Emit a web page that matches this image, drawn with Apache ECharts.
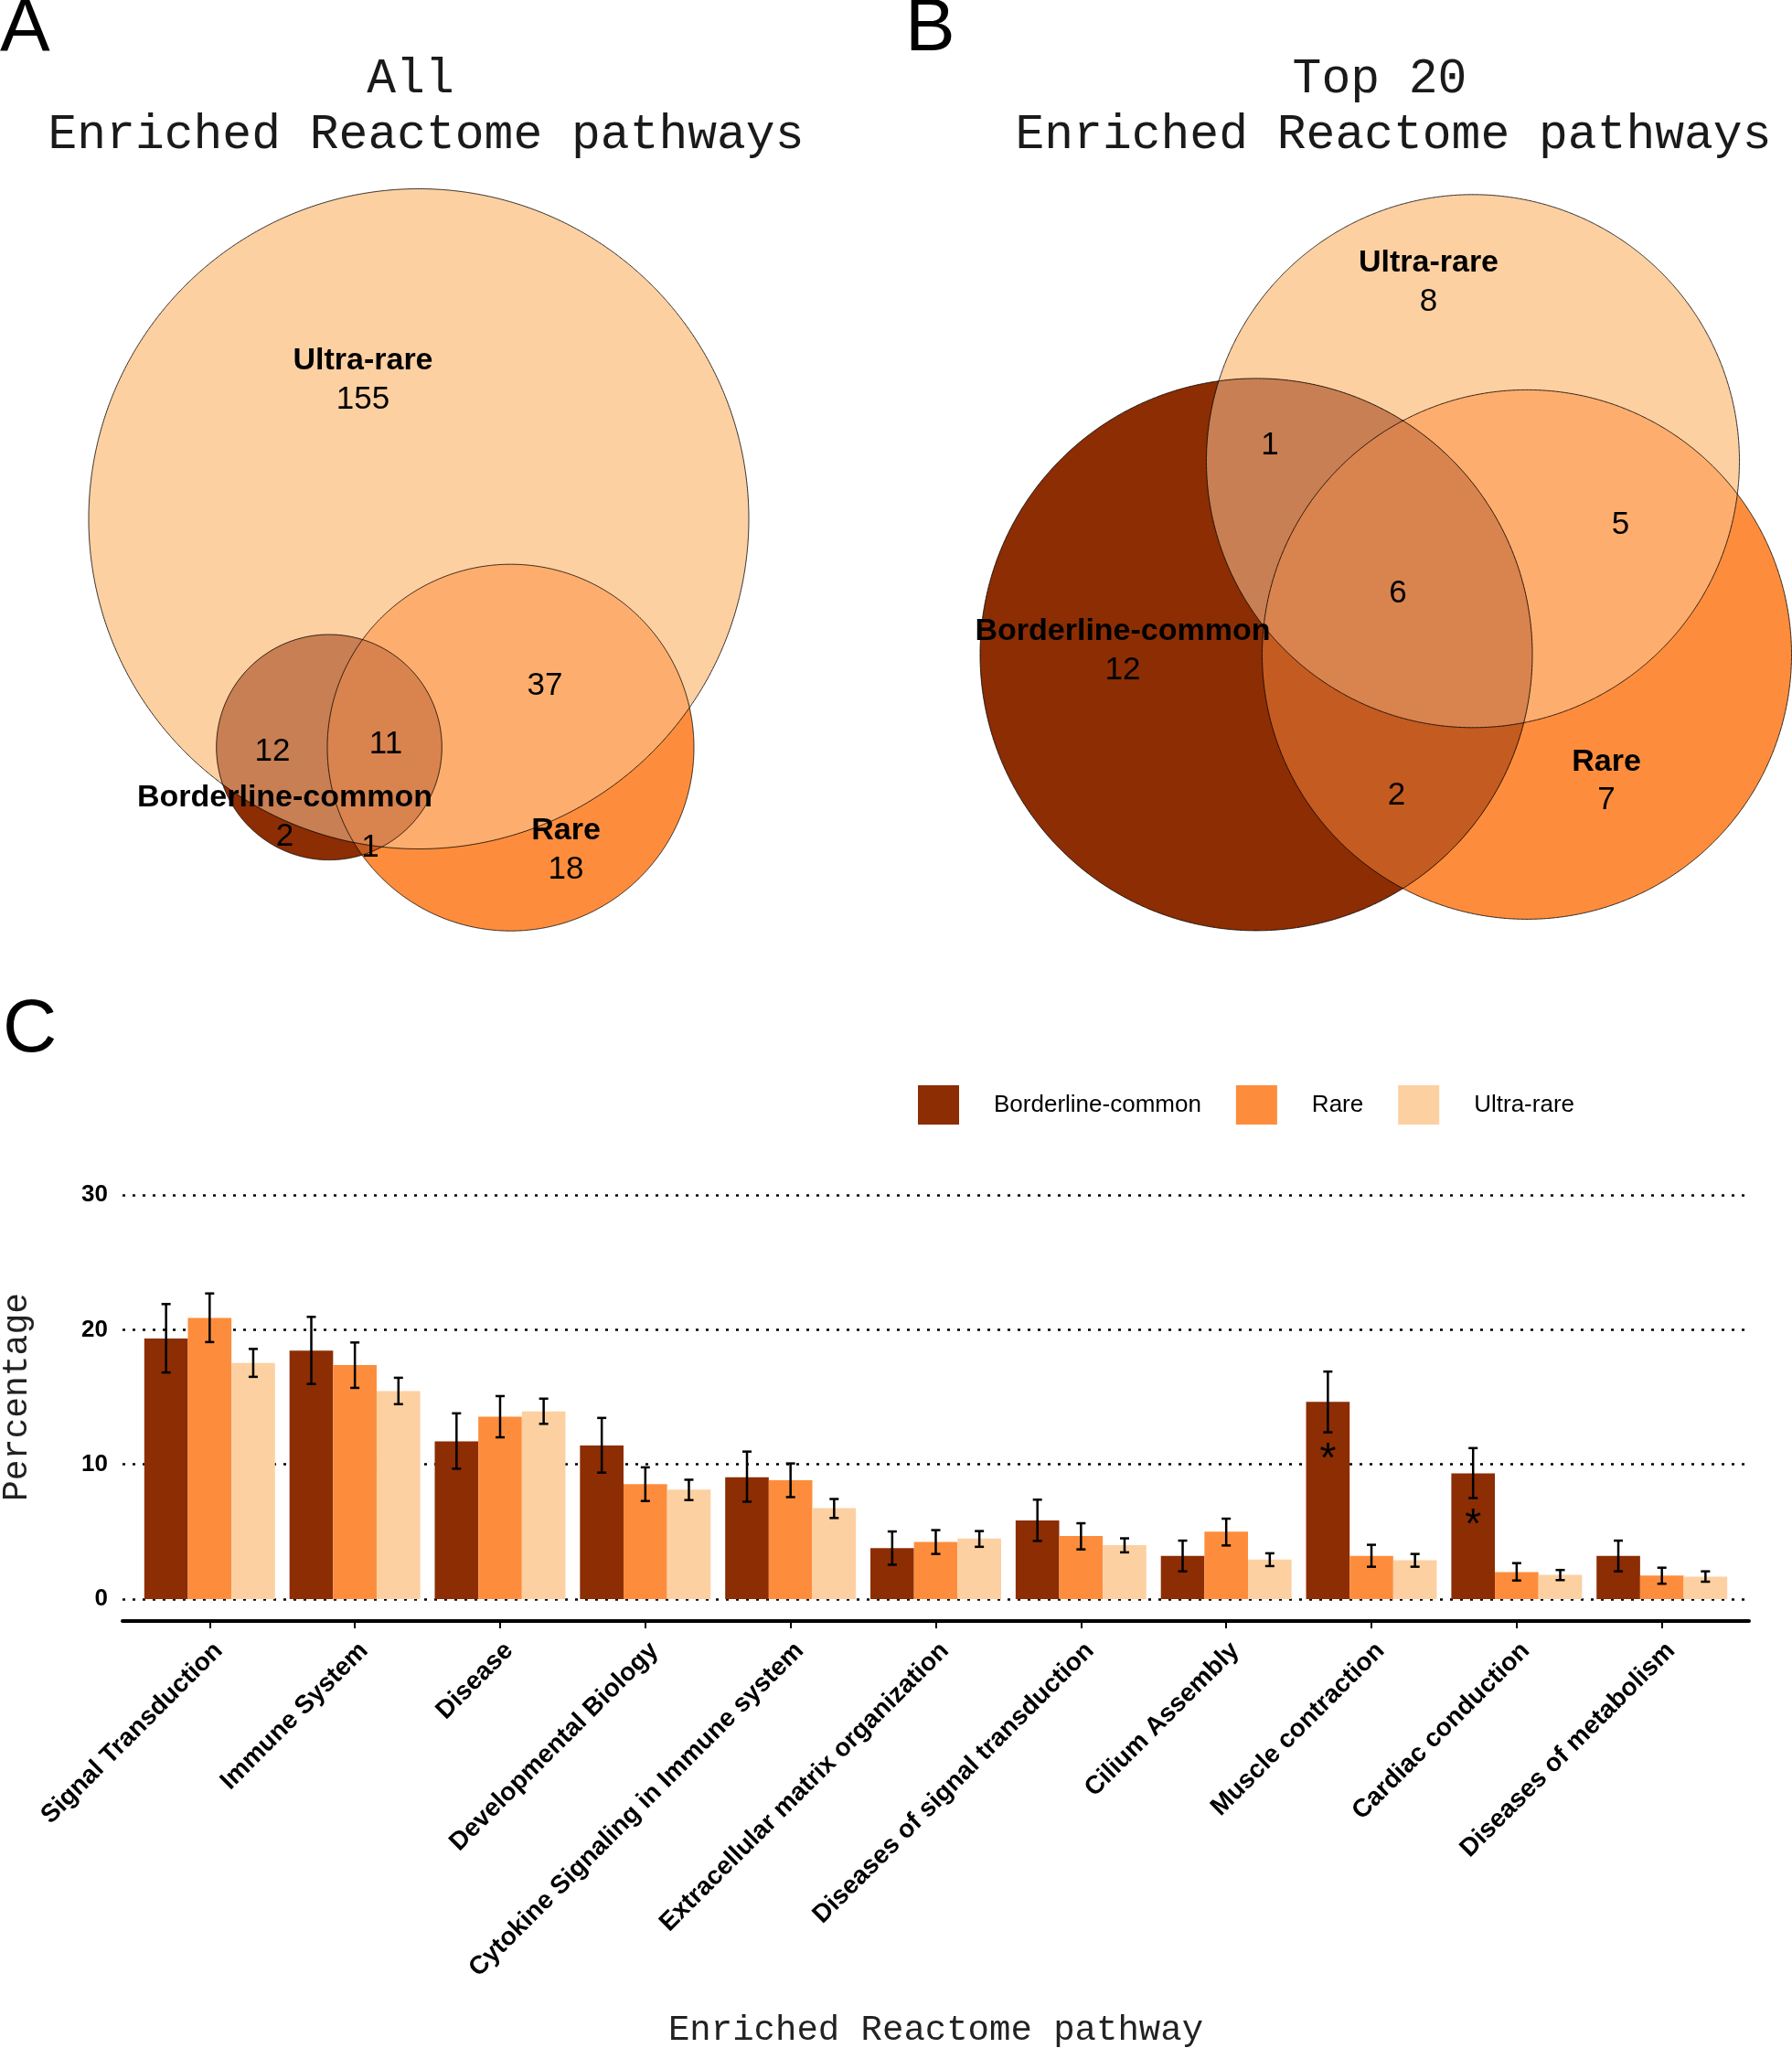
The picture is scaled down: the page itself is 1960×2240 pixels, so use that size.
<!DOCTYPE html>
<html>
<head>
<meta charset="utf-8">
<title>Enriched Reactome pathways</title>
<script src="https://cdn.jsdelivr.net/npm/echarts@6/dist/echarts.min.js"></script>
<style>
  html, body { margin: 0; padding: 0; background: #fff; }
  #main { width: 1960px; height: 2240px; }
</style>
</head>
<body>
<div id="main"></div>
<script>
// ---- panel C data (percent of pathways, with error bar ends) ----
const categories = ['Signal Transduction', 'Immune System', 'Disease', 'Developmental Biology',
  'Cytokine Signaling in Immune system', 'Extracellular matrix organization',
  'Diseases of signal transduction', 'Cilium Assembly', 'Muscle contraction',
  'Cardiac conduction', 'Diseases of metabolism'];
const groupNames = ['Borderline-common', 'Rare', 'Ultra-rare'];

const borderline     = [19.34, 18.45, 11.70, 11.41, 9.05, 3.79, 5.83, 3.20, 14.64, 9.34, 3.20];
const borderlineLow  = [16.82, 15.97, 9.68, 9.39, 7.23, 2.55, 4.32, 2.06, 12.38, 7.50, 2.06];
const borderlineHigh = [21.90, 20.95, 13.79, 13.45, 10.95, 5.02, 7.38, 4.34, 16.89, 11.21, 4.34];
const rare           = [20.87, 17.38, 13.54, 8.54, 8.83, 4.25, 4.68, 5.00, 3.20, 2.01, 1.75];
const rareLow        = [19.08, 15.68, 12.01, 7.28, 7.57, 3.35, 3.69, 3.98, 2.40, 1.38, 1.14];
const rareHigh       = [22.69, 19.05, 15.07, 9.78, 10.07, 5.12, 5.63, 5.97, 4.03, 2.67, 2.33];
const ultra          = [17.52, 15.44, 13.93, 8.13, 6.75, 4.49, 4.00, 2.94, 2.89, 1.80, 1.67];
const ultraLow       = [16.50, 14.47, 13.01, 7.35, 6.02, 3.88, 3.47, 2.45, 2.40, 1.41, 1.29];
const ultraHigh      = [18.57, 16.43, 14.88, 8.86, 7.43, 5.05, 4.51, 3.40, 3.35, 2.16, 2.06];
// significance marks for borderline-common
const signif = ['', '', '', '', '', '', '', '', '*', '*', ''];
const yTicks = [0, 10, 20, 30];

// ---- panels A / B data (Venn region counts) ----
const vennSets = ['Ultra-rare', 'Rare', 'Borderline-common'];
// regions: U, R, B, U&R, U&B, R&B, U&R&B
const regionSets = [[0], [1], [2], [0, 1], [0, 2], [1, 2], [0, 1, 2]];
const countsAll   = [155, 18, 2, 37, 12, 1, 11];
const countsTop20 = [8, 7, 12, 5, 1, 2, 6];

// ---- layout / style (not data) ----
const groupColors = ['#8c2d04', '#fd8d3c', '#fdd0a2'];
const regionColors = ['#fdd0a2', '#fd8d3c', '#8c2d04', '#fdae6e', '#c77f53', '#c45b20', '#d9834f'];
// circle geometry in venn units [cx, cy, r]
const circlesAll   = [[458, 432.5, 361], [558.5, 182.3, 200.5], [360, 182.7, 123.3]];
const circlesTop20 = [[631, 495.7, 291.5], [690, 284.1, 289.5], [394, 284.1, 302]];
const labelPosAll   = [[397, 584], [619, 70], [311.5, 106], [596, 250], [298, 177.7], [405, 72.5], [422, 185.7]];
const labelPosTop20 = [[582.5, 691], [777, 145.2], [248, 288], [792.5, 426.1], [409, 512.5], [547.5, 129.4], [549, 350.4]];

const SANS = '"Liberation Sans", Arial, sans-serif';
const MONO = '"Liberation Mono", "Courier New", monospace';

const seriesValues = [borderline, rare, ultra];
const seriesLow = [borderlineLow, rareLow, ultraLow];
const seriesHigh = [borderlineHigh, rareHigh, ultraHigh];

let myChart = echarts.init(document.getElementById('main'));

// venn drawing: every region is painted as the intersection polygon of its circles
function vennRender(circles, labelPos, counts) {
  return function (params, api) {
    if (params.dataIndex !== 0) return;
    const N = 1440;
    const ring = (c) => {
      const pts = [];
      for (let k = 0; k < N; k++) {
        const a = 2 * Math.PI * k / N;
        pts.push([c[0] + c[2] * Math.cos(a), c[1] + c[2] * Math.sin(a)]);
      }
      return pts;
    };
    const inside = (p, c) => {
      const dx = p[0] - c[0], dy = p[1] - c[1];
      return dx * dx + dy * dy <= c[2] * c[2] + 1e-6;
    };
    const regionPoly = (sets) => {
      let pts = [];
      sets.forEach((i) => {
        ring(circles[i]).forEach((p) => {
          if (sets.every((j) => j === i || inside(p, circles[j]))) pts.push(p);
        });
      });
      if (pts.length < 3) return null;
      let mx = 0, my = 0;
      pts.forEach((p) => { mx += p[0]; my += p[1]; });
      mx /= pts.length; my /= pts.length;
      pts.sort((a, b) => Math.atan2(a[1] - my, a[0] - mx) - Math.atan2(b[1] - my, b[0] - mx));
      return pts.map((p) => api.coord(p));
    };
    const children = [];
    regionSets.forEach((sets, r) => {
      const pts = regionPoly(sets);
      if (pts) children.push({ type: 'polygon', shape: { points: pts }, style: { fill: regionColors[r] } });
    });
    circles.forEach((c) => {
      children.push({
        type: 'polygon', shape: { points: ring(c).map((p) => api.coord(p)) },
        style: { fill: 'none', stroke: 'rgba(0,0,0,0.8)', lineWidth: 1 }
      });
    });
    regionSets.forEach((sets, r) => {
      const p = api.coord(labelPos[r]);
      if (sets.length === 1) {
        children.push({ type: 'text', x: p[0], y: p[1] - 21,
          style: { text: vennSets[sets[0]], fill: '#000', fontSize: 34, fontWeight: 'bold', fontFamily: SANS, align: 'center', verticalAlign: 'middle' } });
        children.push({ type: 'text', x: p[0], y: p[1] + 21,
          style: { text: String(counts[r]), fill: '#000', fontSize: 35, fontFamily: SANS, align: 'center', verticalAlign: 'middle' } });
      } else {
        children.push({ type: 'text', x: p[0], y: p[1],
          style: { text: String(counts[r]), fill: '#000', fontSize: 35, fontFamily: SANS, align: 'center', verticalAlign: 'middle' } });
      }
    });
    return { type: 'group', children: children };
  };
}

// error bars (+ significance stars)
const errData = [];
groupNames.forEach((n, g) => {
  categories.forEach((c, i) => errData.push([i, seriesLow[g][i], seriesHigh[g][i], g]));
});

const catIdx = categories.map((c, i) => i);

let options = {
  backgroundColor: '#fff',
  animation: false,
  legend: {
    data: groupNames,
    left: 999, top: 1182,
    itemWidth: 45, itemHeight: 43, itemGap: 38,
    icon: 'rect',
    selectedMode: false,
    textStyle: { fontSize: 26, fontFamily: SANS, color: '#000', padding: [0, 0, 0, 33] }
  },
  grid: [
    { left: 134, right: 47, top: 1307, bottom: 491, containLabel: false, outerBoundsMode: 'none' },
    { left: 0, width: 980, top: 150, height: 850, containLabel: false, outerBoundsMode: 'none' },
    { left: 980, width: 980, top: 150, height: 850, containLabel: false, outerBoundsMode: 'none' }
  ],
  xAxis: [
    {
      type: 'value', gridIndex: 0, min: -0.6, max: 10.6, offset: 24,
      axisLine: { show: true, onZero: false, lineStyle: { color: '#000', width: 4 } },
      axisTick: { show: true, customValues: catIdx, length: 8, lineStyle: { color: '#000', width: 2 } },
      axisLabel: {
        customValues: catIdx, rotate: 45, margin: 38,
        formatter: (v) => categories[Math.round(v)],
        fontSize: 28, fontWeight: 'bold', fontFamily: SANS, color: '#000',
        padding: [0, -14, 0, 0]
      },
      splitLine: { show: false },
      name: 'Enriched Reactome pathway', nameLocation: 'middle', nameGap: 428,
      nameTextStyle: { fontSize: 39, fontFamily: MONO, color: '#222' }
    },
    { type: 'value', gridIndex: 1, min: 0, max: 980, show: false },
    { type: 'value', gridIndex: 2, min: 0, max: 980, show: false }
  ],
  yAxis: [
    {
      type: 'value', gridIndex: 0, min: yTicks[0], max: yTicks[yTicks.length - 1], interval: 10,
      axisLine: { show: false }, axisTick: { show: false },
      axisLabel: { fontSize: 26, fontWeight: 'bold', fontFamily: SANS, color: '#000', margin: 16 },
      splitLine: { show: true, lineStyle: { color: '#000', width: 2.5, type: [3, 8] } },
      name: 'Percentage', nameLocation: 'middle', nameGap: 96, nameRotate: 90,
      nameTextStyle: { fontSize: 38, fontFamily: MONO, color: '#222' }
    },
    { type: 'value', gridIndex: 1, min: 0, max: 850, show: false },
    { type: 'value', gridIndex: 2, min: 0, max: 850, show: false }
  ],
  graphic: { elements: [
    { type: 'text', x: 0, y: 32, style: { text: 'A', fontSize: 82, fontFamily: SANS, fill: '#000', align: 'left', verticalAlign: 'middle' } },
    { type: 'text', x: 990, y: 32, style: { text: 'B', fontSize: 82, fontFamily: SANS, fill: '#000', align: 'left', verticalAlign: 'middle' } },
    { type: 'text', x: 3, y: 1127, style: { text: 'C', fontSize: 82, fontFamily: SANS, fill: '#000', align: 'left', verticalAlign: 'middle' } },
    { type: 'text', x: 449, y: 87, style: { text: 'All', fontSize: 53, fontFamily: MONO, fill: '#1a1a1a', align: 'center', verticalAlign: 'middle' } },
    { type: 'text', x: 466, y: 148, style: { text: 'Enriched Reactome pathways', fontSize: 53, fontFamily: MONO, fill: '#1a1a1a', align: 'center', verticalAlign: 'middle' } },
    { type: 'text', x: 1509, y: 87, style: { text: 'Top 20', fontSize: 53, fontFamily: MONO, fill: '#1a1a1a', align: 'center', verticalAlign: 'middle' } },
    { type: 'text', x: 1524, y: 148, style: { text: 'Enriched Reactome pathways', fontSize: 53, fontFamily: MONO, fill: '#1a1a1a', align: 'center', verticalAlign: 'middle' } }
  ] },
  series: groupNames.map((name, g) => ({
    name: name, type: 'bar', xAxisIndex: 0, yAxisIndex: 0,
    barWidth: '30%', barGap: '0%',
    itemStyle: { color: groupColors[g] },
    data: seriesValues[g].map((v, i) => [i, v])
  })).concat([
    {
      type: 'custom', xAxisIndex: 0, yAxisIndex: 0, z: 5, silent: true,
      data: errData,
      renderItem: function (params, api) {
        const i = api.value(0), g = api.value(3);
        const dx = api.size([0.3, 0])[0] * (g - 1);
        const top = api.coord([i, api.value(2)]);
        const bot = api.coord([i, api.value(1)]);
        const x = top[0] + dx;
        const st = { stroke: '#000', lineWidth: 2.5 };
        const kids = [
          { type: 'line', shape: { x1: x, y1: top[1], x2: x, y2: bot[1] }, style: st },
          { type: 'line', shape: { x1: x - 5, y1: top[1], x2: x + 5, y2: top[1] }, style: st },
          { type: 'line', shape: { x1: x - 5, y1: bot[1], x2: x + 5, y2: bot[1] }, style: st }
        ];
        if (g === 0 && signif[i]) {
          kids.push({ type: 'text', x: x, y: bot[1] + 31,
            style: { text: signif[i], fill: '#000', fontSize: 46, fontFamily: SANS, align: 'center', verticalAlign: 'middle' } });
        }
        return { type: 'group', children: kids };
      }
    },
    {
      type: 'custom', xAxisIndex: 1, yAxisIndex: 1, silent: true, clip: false,
      data: [[0, 0]],
      renderItem: vennRender(circlesAll, labelPosAll, countsAll)
    },
    {
      type: 'custom', xAxisIndex: 2, yAxisIndex: 2, silent: true, clip: false,
      data: [[0, 0]],
      renderItem: vennRender(circlesTop20, labelPosTop20, countsTop20)
    }
  ])
};
myChart.setOption(options);
</script>
</body>
</html>
